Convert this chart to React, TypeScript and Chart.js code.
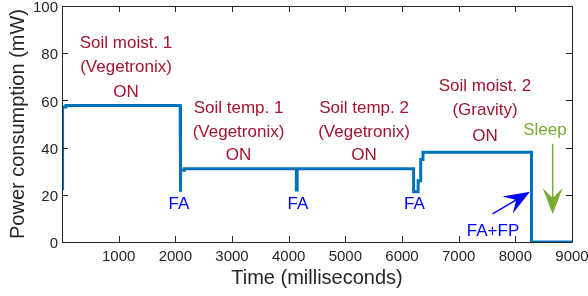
import React, { useEffect, useRef } from "react";
import { Chart, registerables } from "chart.js";

Chart.register(...registerables);

// Power trace (step-like), time in ms, power in mW
const timeMs = [10, 10, 70, 70, 2085, 2085, 2095, 2095, 2160, 2160, 4135, 4135, 4150, 4150, 6205, 6205, 6285, 6285, 6330, 6330, 6370, 6370, 8285, 8285, 9000];
const powerMw = [22, 57.2, 57.2, 57.8, 57.8, 21.3, 21.3, 30.4, 30.4, 31, 31, 22, 22, 31, 31, 21.3, 21.3, 26, 26, 35, 35, 38, 38, 0, 0];

const xTicks = [1000, 2000, 3000, 4000, 5000, 6000, 7000, 8000, 9000];
const yTicks = [0, 20, 40, 60, 80, 100];

// Annotation texts (anchor: center x in ms, baseline y in mW)
const noteText = [
  "Soil moist. 1", "(Vegetronix)", "ON",
  "Soil temp. 1", "(Vegetronix)", "ON",
  "Soil temp. 2", "(Vegetronix)", "ON",
  "Soil moist. 2", "(Gravity)", "ON",
  "FA", "FA", "FA", "FA+FP", "Sleep",
];
const noteTime = [
  1130, 1130, 1130,
  3115, 3115, 3115,
  5330, 5330, 5330,
  7465, 7465, 7465,
  2065, 4165, 6220, 7606, 8523,
];
const notePower = [
  82.2, 72.0, 61.6,
  54.7, 44.5, 34.8,
  54.7, 44.5, 34.8,
  63.9, 53.8, 42.8,
  14, 14, 14, 2.5, 45.3,
];
const noteKind = [
  "red", "red", "red", "red", "red", "red", "red", "red", "red", "red", "red", "red",
  "blue", "blue", "blue", "blue", "green",
];

// Arrows: start (time, power) -> tip (time, power)
const arrowFromTime = [7599, 8659];
const arrowFromPower = [11.9, 41.5];
const arrowToTime = [8259, 8659];
const arrowToPower = [21.3, 11.9];
const arrowKind = ["blue", "green"];

const COLORS: Record<string, string> = {
  red: "#A2142F",
  blue: "#0000FF",
  green: "#77AC30",
};

const FONT = "'Liberation Sans', Arial, Helvetica, sans-serif";

const framePlugin = {
  id: "frameAndNotes",
  afterDatasetsDraw(chart: any) {
    const { ctx, chartArea, scales } = chart;
    const xs = scales.x;
    const ys = scales.y;
    const { left, right, top, bottom } = chartArea;
    ctx.save();
    // frame
    ctx.strokeStyle = "#262626";
    ctx.lineWidth = 1;
    ctx.beginPath();
    ctx.rect(Math.round(left) + 0.5, Math.round(top) + 0.5, Math.round(right - left), Math.round(bottom - top));
    ctx.stroke();
    // inward ticks
    const tl = 6;
    ctx.beginPath();
    xTicks.forEach((v) => {
      const px = Math.round(xs.getPixelForValue(v)) + 0.5;
      ctx.moveTo(px, bottom);
      ctx.lineTo(px, bottom - tl);
      ctx.moveTo(px, top);
      ctx.lineTo(px, top + tl);
    });
    yTicks.forEach((v) => {
      const py = Math.round(ys.getPixelForValue(v)) + 0.5;
      ctx.moveTo(left, py);
      ctx.lineTo(left + tl, py);
      ctx.moveTo(right, py);
      ctx.lineTo(right - tl, py);
    });
    ctx.stroke();

    // notes
    ctx.textAlign = "center";
    ctx.textBaseline = "alphabetic";
    ctx.font = `17px ${FONT}`;
    noteText.forEach((t, i) => {
      ctx.fillStyle = COLORS[noteKind[i]];
      ctx.fillText(t, xs.getPixelForValue(noteTime[i]), ys.getPixelForValue(notePower[i]));
    });

    // arrows
    arrowKind.forEach((k, i) => {
      const x0 = xs.getPixelForValue(arrowFromTime[i]);
      const y0 = ys.getPixelForValue(arrowFromPower[i]);
      const x1 = xs.getPixelForValue(arrowToTime[i]);
      const y1 = ys.getPixelForValue(arrowToPower[i]);
      const ang = Math.atan2(y1 - y0, x1 - x0);
      const len = 26, half = 10, notch = 16;
      const ux = Math.cos(ang), uy = Math.sin(ang);
      const nx = -uy, ny = ux;
      ctx.strokeStyle = COLORS[k];
      ctx.fillStyle = COLORS[k];
      ctx.lineWidth = 1.5;
      ctx.beginPath();
      ctx.moveTo(x0, y0);
      ctx.lineTo(x1 - ux * notch, y1 - uy * notch);
      ctx.stroke();
      ctx.beginPath();
      ctx.moveTo(x1, y1);
      ctx.lineTo(x1 - ux * len + nx * half, y1 - uy * len + ny * half);
      ctx.lineTo(x1 - ux * notch, y1 - uy * notch);
      ctx.lineTo(x1 - ux * len - nx * half, y1 - uy * len - ny * half);
      ctx.closePath();
      ctx.fill();
    });
    ctx.restore();
  },
};

export default function App() {
  const ref = useRef<HTMLCanvasElement | null>(null);
  useEffect(() => {
    document.body.style.margin = "0";
    const canvas = ref.current;
    if (!canvas) return;
    const chart = new Chart(canvas, {
      type: "line",
      data: {
        datasets: [
          {
            data: timeMs.map((t, i) => ({ x: t, y: powerMw[i] })),
            borderColor: "#0072BD",
            borderWidth: 3,
            pointRadius: 0,
            tension: 0,
            fill: false,
            borderJoinStyle: "miter",
          },
        ],
      },
      options: {
        animation: false,
        responsive: false,
        devicePixelRatio: 1,
        layout: { padding: { top: 6, right: 16, left: 0, bottom: 0 } },
        plugins: { legend: { display: false }, tooltip: { enabled: false } },
        scales: {
          x: {
            type: "linear",
            min: 0,
            max: 9000,
            afterFit: (s: any) => { s.height = 54; s.paddingLeft = 0; s.paddingRight = 0; },
            afterBuildTicks: (s: any) => { s.ticks = xTicks.map((v) => ({ value: v })); },
            grid: { display: false, drawTicks: false },
            border: { display: false },
            ticks: {
              padding: 6,
              color: "#262626",
              font: { size: 15, family: FONT },
              maxRotation: 0,
              callback: (v: any) => String(v),
            },
            title: {
              display: true,
              text: "Time (milliseconds)",
              color: "#262626",
              font: { size: 20, family: FONT },
              padding: { top: 0, bottom: 6 },
            },
          },
          y: {
            type: "linear",
            min: 0,
            max: 100,
            afterFit: (s: any) => { s.width = 62; s.paddingTop = 0; s.paddingBottom = 0; },
            afterBuildTicks: (s: any) => { s.ticks = yTicks.map((v) => ({ value: v })); },
            grid: { display: false, drawTicks: false },
            border: { display: false },
            ticks: {
              padding: 4,
              labelOffset: 2,
              color: "#262626",
              font: { size: 15, family: FONT },
              callback: (v: any) => String(v),
            },
            title: {
              display: true,
              text: "Power consumption (mW)",
              color: "#262626",
              font: { size: 20, family: FONT },
              padding: { top: 6, bottom: 0 },
            },
          },
        },
      },
      plugins: [framePlugin],
    });
    return () => chart.destroy();
  }, []);
  return (
    <div style={{ width: 588, height: 296 }}>
      <canvas ref={ref} width={588} height={296} style={{ display: "block", width: 588, height: 296 }} />
    </div>
  );
}
